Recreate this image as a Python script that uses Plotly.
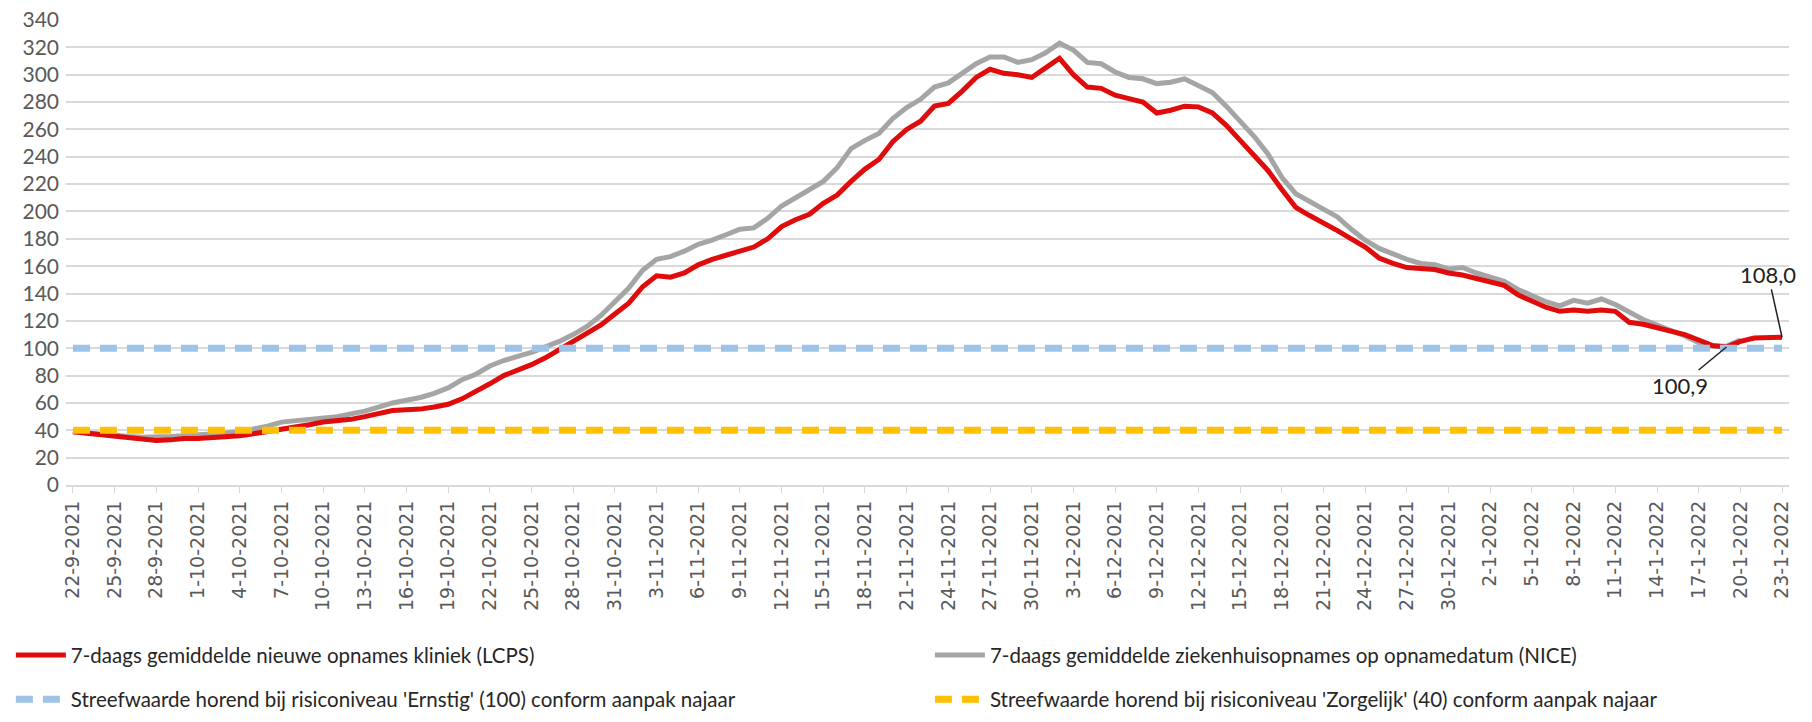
import pandas as pd
import plotly.graph_objects as go

dates = [f"{d.day}-{d.month}-{d.year}" for d in pd.date_range("2021-09-22", "2022-01-23")]

lcps = [39, 38, 37, 35.5, 35, 34, 32.5, 33, 34, 34, 34.5, 35.5, 36, 37.5, 39, 41, 42.5, 44, 46, 47,
        48, 50, 52, 54.5, 55, 55.5, 57, 59, 63, 68, 74, 80, 84, 88, 93, 99, 104, 111, 117, 125,
        133, 145, 153, 152, 155, 161, 165, 168, 171, 174, 180, 189, 194, 198, 206, 212, 222, 231, 238, 251,
        260, 266, 277, 279, 288, 298, 304, 301, 300, 298, 305, 312, 300, 291, 290, 285, 282.5, 280, 272, 274,
        277, 276.5, 272, 263, 252, 241, 230, 216, 203, 197, 192, 186, 180, 174, 166, 162, 159, 158, 157.5, 155,
        153.5, 151, 148.5, 146, 139, 134, 130, 127, 128, 127, 128, 127, 119, 117.5, 115, 113, 110, 106, 102, 100.9,
        105, 107.5, 107.5, 108.0]

nice = [39, 38, 37, 36, 35.5, 35, 35, 35.5, 36, 36.5, 37, 38, 39, 41, 43, 46, 47, 47.5, 48.5, 50,
        52, 54, 57, 60, 62, 64, 67, 71, 77, 81, 87, 91, 94, 97, 101, 105, 110, 116, 124, 134,
        144, 157, 165, 167, 171, 176, 179, 183, 187, 188, 195, 204, 210, 216, 222, 232, 246, 252, 257, 268,
        276, 282, 291, 294, 301, 308, 313, 313, 309, 311, 316, 323, 318, 309, 308, 302, 298, 297, 293.5, 294.5,
        297, 292, 287, 277, 266, 255, 242, 225, 213, 207, 202, 196, 187, 179, 173, 169, 165, 162, 161, 158,
        159, 155, 152, 149, 143, 138, 134, 131, 135, 133, 136, 132, 126, 121, 117, 113, 109, 104, 101.5, 101.5,
        106, None, None, None]

ernstig = [100] * len(dates)
zorgelijk = [40] * len(dates)

names = [
    "7-daags gemiddelde nieuwe opnames kliniek (LCPS)",
    "7-daags gemiddelde ziekenhuisopnames op opnamedatum (NICE)",
    "Streefwaarde horend bij risiconiveau 'Ernstig' (100) conform aanpak najaar",
    "Streefwaarde horend bij risiconiveau 'Zorgelijk' (40) conform aanpak najaar",
]

fig = go.Figure()
fig.add_trace(go.Scatter(x=dates, y=nice, mode="lines", name=names[1], legend="legend2",
                         line=dict(color="#a5a5a5", width=5)))
fig.add_trace(go.Scatter(x=dates, y=lcps, mode="lines", name=names[0], legend="legend",
                         line=dict(color="#e00b0b", width=5)))
fig.add_trace(go.Scatter(x=dates, y=ernstig, mode="lines", name=names[2], legend="legend3",
                         line=dict(color="#9dc3e6", width=7, dash="17px,10px")))
fig.add_trace(go.Scatter(x=dates, y=zorgelijk, mode="lines", name=names[3], legend="legend4",
                         line=dict(color="#ffc000", width=7, dash="17px,10px")))

fig.add_annotation(x=dates[-1], y=lcps[-1], text="108,0", showarrow=True, arrowhead=0, arrowwidth=1.5,
                   arrowcolor="#222", ax=-14, ay=-63, font=dict(family="Lato", size=22, color="#222"))
fig.add_annotation(x=dates[119], y=lcps[119], text="100,9", showarrow=True, arrowhead=0, arrowwidth=1.5,
                   arrowcolor="#222", ax=-46, ay=38, font=dict(family="Lato", size=22, color="#222"))

# four single-entry legends so the 2x2 grid lines up like the original
legend_style = dict(orientation="h", xanchor="left", yanchor="middle",
                    font=dict(family="Lato", size=20.5, color="#262626"),
                    bgcolor="rgba(0,0,0,0)", itemwidth=50)
col1, col2 = -0.032, 0.5014
row1, row2 = -0.366, -0.461

fig.update_layout(
    width=1812, height=722,
    margin=dict(l=58, r=31, t=12, b=245, autoexpand=False),
    plot_bgcolor="white", paper_bgcolor="white",
    showlegend=True,
    legend=dict(legend_style, x=col1, y=row1),
    legend2=dict(legend_style, x=col2, y=row1),
    legend3=dict(legend_style, x=col1, y=row2),
    legend4=dict(legend_style, x=col2, y=row2),
)

fig.update_xaxes(type="category", range=[-0.5, len(dates) - 0.5], tickvals=dates[::3], ticktext=dates[::3],
                 tickangle=-90, tickfont=dict(family="DejaVu Sans", size=19, color="#595959"),
                 showgrid=False, showline=True, linecolor="#d9d9d9", linewidth=2,
                 ticks="outside", ticklen=6, tickcolor="#d9d9d9")
fig.update_yaxes(range=[0, 340], dtick=20, tickfont=dict(family="Lato", size=21, color="#595959"),
                 gridcolor="#d9d9d9", gridwidth=2, zeroline=False, ticklabelstandoff=6,
                 ticklabeloverflow="allow")

fig.write_html("out.html")
